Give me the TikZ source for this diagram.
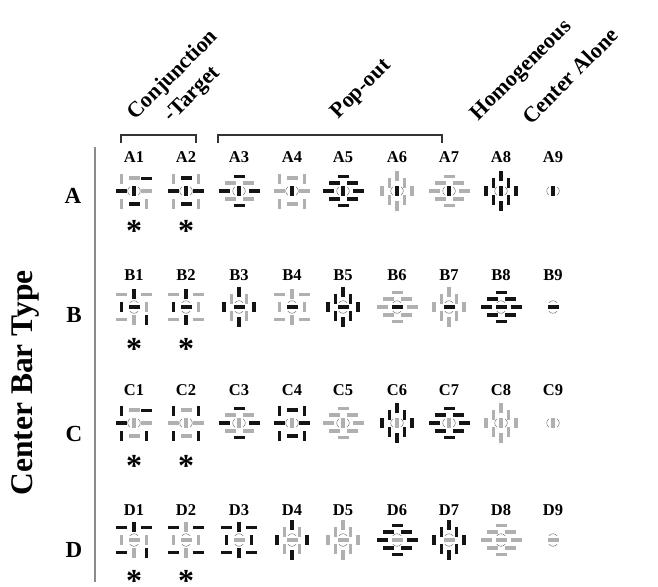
\documentclass[tikz,border=0pt]{standalone}
\usepackage{fontspec}
\setmainfont{Liberation Serif}
\definecolor{bark}{HTML}{141414}
\definecolor{barg}{HTML}{B0B0B0}
\definecolor{arcc}{HTML}{777777}
\definecolor{axisc}{HTML}{8A8A8A}
\definecolor{brkc}{HTML}{333333}

% offsets of the eight surrounding bars: m = mixed (square), v = all vertical, h = all horizontal
\def\offmTL{-12.5,-12.5}\def\offmT{0,-13}\def\offmTR{12.5,-12.5}
\def\offmL{-12.5,0}\def\offmR{12.5,0}
\def\offmBL{-12.5,12.5}\def\offmB{0,13}\def\offmBR{12.5,12.5}
\def\offvTL{-7.5,-8.5}\def\offvT{0,-15}\def\offvTR{7.5,-8.5}
\def\offvL{-15,0}\def\offvR{15,0}
\def\offvBL{-7.5,8.5}\def\offvB{0,15}\def\offvBR{7.5,8.5}
\def\offhTL{-9,-8}\def\offhT{0,-14.5}\def\offhTR{9,-8}
\def\offhL{-15,0}\def\offhR{15,0}
\def\offhBL{-9,8}\def\offhB{0,14.5}\def\offhBR{9,8}

\def\drawbarv#1{\fill[bar#1] (-1.6,-5) rectangle (1.6,5);}
\def\drawbarh#1{\fill[bar#1] (-5.5,-1.6) rectangle (5.5,1.6);}
\def\drawbar#1#2{\csname drawbar#1\endcsname{#2}}
\def\arcsv{\draw[arcc,line width=0.5pt] (-4.2,-4.2) .. controls (-7,-1.5) and (-7,1.5) .. (-4.2,4.2);
  \draw[arcc,line width=0.5pt] (4.2,-4.2) .. controls (7,-1.5) and (7,1.5) .. (4.2,4.2);}
\def\arcsh{\draw[arcc,line width=0.5pt] (-4.2,-4.2) .. controls (-1.5,-7) and (1.5,-7) .. (4.2,-4.2);
  \draw[arcc,line width=0.5pt] (-4.2,4.2) .. controls (-1.5,7) and (1.5,7) .. (4.2,4.2);}
\def\ctr#1#2{\csname arcs#1\endcsname\drawbar#1#2}
\newcommand\placebar[2]{\begin{scope}[shift={(#1)}]\drawbar#2\end{scope}}
\newcommand\icon[4]{%
  \begin{scope}[shift={(#1)}]
    \ctr#2
    \foreach \p/\s in {#4}{\edef\tmp{\noexpand\placebar{\csname off#3\p\endcsname}{\s}}\tmp}
  \end{scope}}
\newcommand\uicon[4]{\icon{#1}{#2}{#3}{TL/#4,T/#4,TR/#4,L/#4,R/#4,BL/#4,B/#4,BR/#4}}
\newcommand\lone[2]{\begin{scope}[shift={(#1)}]\ctr#2\end{scope}}

\tikzset{
  collab/.style={font=\bfseries\fontsize{16.5}{18}\selectfont, anchor=base, inner sep=0pt},
  rowlab/.style={font=\bfseries\fontsize{23}{26}\selectfont, anchor=base, inner sep=0pt},
  sidelab/.style={font=\bfseries\fontsize{31.5}{34}\selectfont, rotate=90, inner sep=0pt},
  hdr/.style={font=\bfseries\fontsize{22}{27}\selectfont, rotate=45, inner sep=0pt, align=center},
  starlab/.style={font=\bfseries\fontsize{32}{34}\selectfont, anchor=base, inner sep=0pt},
  brk/.style={brkc, line width=1.2pt},
  axisline/.style={axisc, line width=1.5pt}
}

\begin{document}
\begin{tikzpicture}[x=1pt,y=-1pt]
\useasboundingbox (0,0) rectangle (658,586);

% headers
\node[hdr] (hconj) at (183,85) {Conjunction\\-Target};
\node[hdr] (hpop) at (361.5,89.5) {Pop-out};
\node[hdr] (hhom) at (522,71) {Homogeneous};
\node[hdr] (halone) at (570,76) {Center Alone};

% brackets
\draw[brk] (121,143) -- (121,135) -- (196,135) -- (196,143);
\draw[brk] (218,143) -- (218,135) -- (442,135) -- (442,143);

% side axis
\draw[axisline] (95,147) -- (95,582);
\node[sidelab] (cbt) at (25,383) {Center Bar Type};
\node[rowlab] (rA) at (73,203) {A};
\node[rowlab] (rB) at (74,322) {B};
\node[rowlab] (rC) at (74,441) {C};
\node[rowlab] (rD) at (74,557) {D};

% column labels
\foreach \r/\ly in {A/162.5,B/280.5,C/395,D/515.5}{
  \foreach \c/\cx in {1/134,2/186,3/239,4/292,5/343,6/397,7/449,8/501,9/553}{
    \node[collab] (l\r\c) at (\cx,\ly) {\r\c};
  }}

% asterisks
\foreach \r/\ay in {A/226,B/344,C/461,D/576}{
  \node[starlab] (s\r1) at (134,\ay+15) {*};
  \node[starlab] (s\r2) at (186,\ay+15) {*};
}

% row A (center vertical black)
\icon{134,191}{vk}{m}{TL/vg,T/hg,TR/hk,L/hk,R/hg,BL/vg,B/hk,BR/vg}
\icon{186,191}{vk}{m}{TL/vg,T/hk,TR/vg,L/hk,R/hk,BL/vg,B/hk,BR/vg}
\icon{239,191}{vk}{h}{TL/hg,T/hk,TR/hg,L/hk,R/hk,BL/hg,B/hk,BR/hg}
\icon{292,191}{vk}{m}{TL/vg,T/hg,TR/vg,L/hg,R/hg,BL/vg,B/hg,BR/vg}
\uicon{343,191}{vk}{h}{hk}
\uicon{397,191}{vk}{v}{vg}
\uicon{449,191}{vk}{h}{hg}
\uicon{501,191}{vk}{v}{vk}
\lone{553,191}{vk}

% row B (center horizontal black)
\icon{134,307}{hk}{m}{TL/hg,T/vk,TR/hg,L/vk,R/vg,BL/hg,B/vg,BR/vk}
\icon{186,307}{hk}{m}{TL/hg,T/vk,TR/hg,L/vk,R/vg,BL/hg,B/vk,BR/hg}
\icon{239,307}{hk}{v}{TL/vg,T/vk,TR/vg,L/vk,R/vk,BL/vg,B/vk,BR/vg}
\icon{292,307}{hk}{m}{TL/hg,T/vg,TR/hg,L/vg,R/vg,BL/hg,B/vg,BR/hg}
\uicon{343,307}{hk}{v}{vk}
\uicon{397,307}{hk}{h}{hg}
\uicon{449,307}{hk}{v}{vg}
\uicon{501,307}{hk}{h}{hk}
\lone{553,307}{hk}

% row C (center vertical gray)
\icon{134,423}{vg}{m}{TL/vk,T/hg,TR/hk,L/hk,R/hg,BL/vk,B/hg,BR/vk}
\icon{186,423}{vg}{m}{TL/vk,T/hg,TR/vk,L/hg,R/hg,BL/vk,B/hg,BR/vk}
\icon{239,423}{vg}{h}{TL/hg,T/hk,TR/hg,L/hk,R/hk,BL/hg,B/hk,BR/hg}
\icon{292,423}{vg}{m}{TL/vk,T/hk,TR/vk,L/hk,R/hk,BL/vk,B/hk,BR/vk}
\uicon{343,423}{vg}{h}{hg}
\uicon{397,423}{vg}{v}{vk}
\uicon{449,423}{vg}{h}{hk}
\uicon{501,423}{vg}{v}{vg}
\lone{553,423}{vg}

% row D (center horizontal gray)
\icon{134,540}{hg}{m}{TL/hk,T/vk,TR/hk,L/vg,R/vg,BL/hk,B/vg,BR/vk}
\icon{186,540}{hg}{m}{TL/hk,T/vg,TR/hk,L/vg,R/vg,BL/hk,B/vg,BR/hk}
\icon{239,540}{hg}{m}{TL/hk,T/vk,TR/hk,L/vk,R/vk,BL/hk,B/vk,BR/hk}
\icon{292,540}{hg}{v}{TL/vg,T/vk,TR/vg,L/vk,R/vk,BL/vg,B/vk,BR/vg}
\uicon{343,540}{hg}{v}{vg}
\uicon{397,540}{hg}{h}{hk}
\uicon{449,540}{hg}{v}{vk}
\uicon{501,540}{hg}{h}{hg}
\lone{553,540}{hg}
\end{tikzpicture}
\end{document}
